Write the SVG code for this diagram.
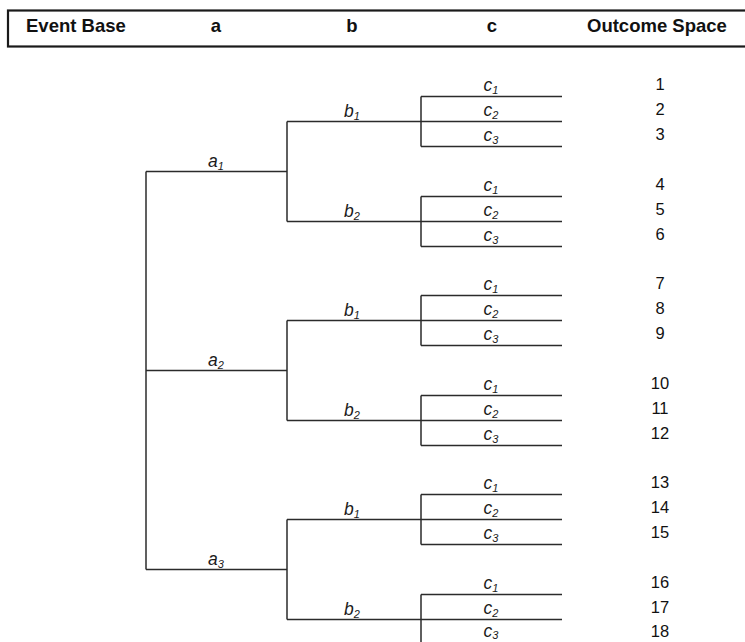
<svg xmlns="http://www.w3.org/2000/svg" width="745" height="642" viewBox="0 0 745 642">
  <style>
    .hdr { font-family: "Liberation Sans", Arial, sans-serif; font-weight: bold; font-size: 18.5px; fill: #111; }
    .lbl { font-family: "Liberation Sans", Arial, sans-serif; font-style: italic; font-size: 17.5px; fill: #1a1a1a; text-anchor: middle; }
    .sub { font-size: 11px; }
    .num { font-family: "Liberation Sans", Arial, sans-serif; font-size: 16.5px; fill: #111; text-anchor: middle; }
    .wire { fill: none; stroke: #2b2b2b; stroke-width: 1.5; }
    .frame { fill: none; stroke: #1a1a1a; stroke-width: 2.2; }
  </style>

  <rect width="745" height="642" fill="#ffffff"/>

  <!-- column header band -->
  <g id="header">
    <rect class="frame" x="8" y="10.5" width="760" height="36"/>
    <text class="hdr" x="26" y="31.5">Event Base</text>
    <text class="hdr" x="216" y="31.5" text-anchor="middle">a</text>
    <text class="hdr" x="352" y="31.5" text-anchor="middle">b</text>
    <text class="hdr" x="492" y="31.5" text-anchor="middle">c</text>
    <text class="hdr" x="587" y="31.5">Outcome Space</text>
  </g>

  <!-- tree branches -->
  <g id="connectors" class="wire">
    <!-- root split into a1..a3 -->
    <path d="M146,171.5 V569.5"/>
    <path d="M146,171.5 H287 M146,370.5 H287 M146,569.5 H287"/>
    <!-- a -> b splits -->
    <path d="M287,121.5 V221.5 M287,320.5 V420.5 M287,519.5 V619.5"/>
    <path d="M287,121.5 H421 M287,221.5 H421 M287,320.5 H421 M287,420.5 H421 M287,519.5 H421 M287,619.5 H421"/>
    <!-- b -> c splits -->
    <path d="M421,96.5 V146.5 M421,196.5 V246.5 M421,295.5 V345.5 M421,395.5 V445.5 M421,494.5 V544.5 M421,594.5 V644.5"/>
    <path d="M421,96.5 H562 M421,121.5 H562 M421,146.5 H562
             M421,196.5 H562 M421,221.5 H562 M421,246.5 H562
             M421,295.5 H562 M421,320.5 H562 M421,345.5 H562
             M421,395.5 H562 M421,420.5 H562 M421,445.5 H562
             M421,494.5 H562 M421,519.5 H562 M421,544.5 H562
             M421,594.5 H562 M421,619.5 H562 M421,644.5 H562"/>
  </g>

  <!-- level a -->
  <g id="node-a1"><text class="lbl" x="216" y="166.5">a<tspan class="sub" dy="3">1</tspan></text></g>
  <g id="node-a2"><text class="lbl" x="216" y="365.5">a<tspan class="sub" dy="3">2</tspan></text></g>
  <g id="node-a3"><text class="lbl" x="216" y="564.5">a<tspan class="sub" dy="3">3</tspan></text></g>

  <!-- level b -->
  <g id="node-a1-b1"><text class="lbl" x="352" y="116.5">b<tspan class="sub" dy="3">1</tspan></text></g>
  <g id="node-a1-b2"><text class="lbl" x="352" y="216.5">b<tspan class="sub" dy="3">2</tspan></text></g>
  <g id="node-a2-b1"><text class="lbl" x="352" y="315.5">b<tspan class="sub" dy="3">1</tspan></text></g>
  <g id="node-a2-b2"><text class="lbl" x="352" y="415.5">b<tspan class="sub" dy="3">2</tspan></text></g>
  <g id="node-a3-b1"><text class="lbl" x="352" y="514.5">b<tspan class="sub" dy="3">1</tspan></text></g>
  <g id="node-a3-b2"><text class="lbl" x="352" y="614.5">b<tspan class="sub" dy="3">2</tspan></text></g>

  <!-- level c -->
  <g id="node-c-1"><text class="lbl" x="491" y="91">c<tspan class="sub" dy="3">1</tspan></text></g>
  <g id="node-c-2"><text class="lbl" x="491" y="116">c<tspan class="sub" dy="3">2</tspan></text></g>
  <g id="node-c-3"><text class="lbl" x="491" y="141">c<tspan class="sub" dy="3">3</tspan></text></g>
  <g id="node-c-4"><text class="lbl" x="491" y="191">c<tspan class="sub" dy="3">1</tspan></text></g>
  <g id="node-c-5"><text class="lbl" x="491" y="216">c<tspan class="sub" dy="3">2</tspan></text></g>
  <g id="node-c-6"><text class="lbl" x="491" y="241">c<tspan class="sub" dy="3">3</tspan></text></g>
  <g id="node-c-7"><text class="lbl" x="491" y="290">c<tspan class="sub" dy="3">1</tspan></text></g>
  <g id="node-c-8"><text class="lbl" x="491" y="315">c<tspan class="sub" dy="3">2</tspan></text></g>
  <g id="node-c-9"><text class="lbl" x="491" y="340">c<tspan class="sub" dy="3">3</tspan></text></g>
  <g id="node-c-10"><text class="lbl" x="491" y="390">c<tspan class="sub" dy="3">1</tspan></text></g>
  <g id="node-c-11"><text class="lbl" x="491" y="415">c<tspan class="sub" dy="3">2</tspan></text></g>
  <g id="node-c-12"><text class="lbl" x="491" y="440">c<tspan class="sub" dy="3">3</tspan></text></g>
  <g id="node-c-13"><text class="lbl" x="491" y="489">c<tspan class="sub" dy="3">1</tspan></text></g>
  <g id="node-c-14"><text class="lbl" x="491" y="514">c<tspan class="sub" dy="3">2</tspan></text></g>
  <g id="node-c-15"><text class="lbl" x="491" y="539">c<tspan class="sub" dy="3">3</tspan></text></g>
  <g id="node-c-16"><text class="lbl" x="491" y="589">c<tspan class="sub" dy="3">1</tspan></text></g>
  <g id="node-c-17"><text class="lbl" x="491" y="614">c<tspan class="sub" dy="3">2</tspan></text></g>
  <g id="node-c-18"><text class="lbl" x="491" y="636.5">c<tspan class="sub" dy="2">3</tspan></text></g>

  <!-- outcome space -->
  <g id="outcomes">
    <text class="num" x="660" y="89.5">1</text>
    <text class="num" x="660" y="114.5">2</text>
    <text class="num" x="660" y="139.5">3</text>
    <text class="num" x="660" y="189.5">4</text>
    <text class="num" x="660" y="214.5">5</text>
    <text class="num" x="660" y="239.5">6</text>
    <text class="num" x="660" y="288.5">7</text>
    <text class="num" x="660" y="313.5">8</text>
    <text class="num" x="660" y="338.5">9</text>
    <text class="num" x="660" y="388.5">10</text>
    <text class="num" x="660" y="413.5">11</text>
    <text class="num" x="660" y="438.5">12</text>
    <text class="num" x="660" y="487.5">13</text>
    <text class="num" x="660" y="512.5">14</text>
    <text class="num" x="660" y="537.5">15</text>
    <text class="num" x="660" y="587.5">16</text>
    <text class="num" x="660" y="612.5">17</text>
    <text class="num" x="660" y="636.5">18</text>
  </g>
</svg>
